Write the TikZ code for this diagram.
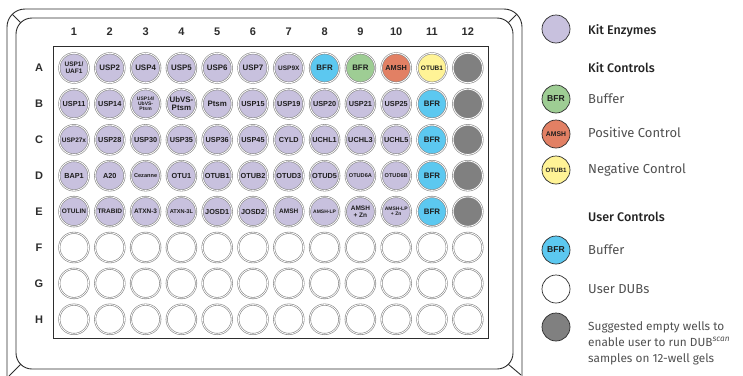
\documentclass[tikz,border=0pt]{standalone}
\usepackage{fontspec}
\setmainfont{Liberation Sans}
\newfontfamily\legendfont{Fira Sans}
\newfontfamily\legendhead{Fira Sans Medium}
\definecolor{kitlav}{RGB}{200,193,222}
\definecolor{kitgreen}{RGB}{158,205,148}
\definecolor{kitsalmon}{RGB}{226,128,100}
\definecolor{kityellow}{RGB}{255,243,150}
\definecolor{userblue}{RGB}{92,200,240}
\definecolor{emptygray}{RGB}{128,128,128}
\definecolor{ringgray}{RGB}{135,135,135}
\definecolor{welltext}{RGB}{30,30,30}
\definecolor{linecol}{RGB}{45,45,45}
\definecolor{headcol}{RGB}{35,35,35}
\definecolor{itemcol}{RGB}{80,80,80}
\newcommand\wfn{\fontsize{7.9}{8.2}\selectfont\bfseries}
\newcommand\wfm{\fontsize{7.3}{7.7}\selectfont\bfseries}
\newcommand\wfs{\fontsize{6.5}{7.0}\selectfont\bfseries}
\newcommand\wfx{\fontsize{5.6}{5.9}\selectfont\bfseries}
\newcommand\wft{\fontsize{5.0}{5.2}\selectfont\bfseries}
\tikzset{
  well/.style={circle, draw=ringgray, double=white, double distance=0.8pt,
    line width=0.6pt, minimum size=29.4pt, inner sep=0pt, align=center,
    text=welltext, font=\wfn},
  lgcircle/.style={circle, draw=linecol, line width=0.7pt, minimum size=28pt,
    inner sep=0pt, text=welltext},
  axislabel/.style={font=\fontsize{11}{12}\selectfont\bfseries, text=linecol},
  lghead/.style={anchor=west, inner sep=0pt, text=headcol,
    font=\legendhead\fontsize{12.5}{15}\selectfont},
  lgitem/.style={anchor=west, inner sep=0pt, text=itemcol,
    font=\legendfont\fontsize{13}{15}\selectfont},
  lgnote/.style={anchor=north west, inner sep=0pt, text=itemcol, align=left,
    font=\legendfont\fontsize{11.8}{16}\selectfont},
  plateline/.style={draw=linecol, line width=0.9pt}
}
\newcommand\W[5]{\node[well, fill=#3, font=#4] (w-#1-#2) at ({74+(#1-1)*35.8},{68+(#2-1)*35.9}) {#5};}
\begin{document}
\begin{tikzpicture}[x=1pt,y=-1pt]
\useasboundingbox (0,0) rectangle (743,375);
% plate outline
\begin{scope}
\clip (0,0) rectangle (743,375);
\draw[plateline, rounded corners=18pt] (7,395) -- (7,9) -- (522,9) -- (522,395);
\draw[plateline, rounded corners=16pt] (16,18) rectangle (513,369);
\coordinate (otl) at (12.3,14.3); \coordinate (itl) at (20.7,22.7);
\coordinate (otr) at (516.7,14.3); \coordinate (itr) at (508.3,22.7);
\coordinate (obr) at (521,375); \coordinate (ibr) at (508.3,364.3);
\coordinate (obl) at (9,376); \coordinate (ibl) at (20.7,364.3);
\draw[plateline] (otl) -- (itl);
\draw[plateline] (otr) -- (itr);
\draw[plateline] (ibr) -- (obr);
\draw[plateline] (ibl) -- (obl);
\end{scope}
\draw[plateline] (53,46) rectangle (488,338);
% column and row labels
\foreach \c in {1,...,12} {
  \node[axislabel] (col-\c) at ({74+(\c-1)*35.8},32) {\c};
}
\foreach \r [count=\i] in {A,B,C,D,E,F,G,H} {
  \node[axislabel] (row-\r) at (39,{68+(\i-1)*35.9}) {\r};
}
% row A
\W{1}{1}{kitlav}{\wfs}{USP1/\\UAF1}
\W{2}{1}{kitlav}{\wfn}{USP2}
\W{3}{1}{kitlav}{\wfn}{USP4}
\W{4}{1}{kitlav}{\wfn}{USP5}
\W{5}{1}{kitlav}{\wfn}{USP6}
\W{6}{1}{kitlav}{\wfn}{USP7}
\W{7}{1}{kitlav}{\wfs}{USP9X}
\W{8}{1}{userblue}{\wfn}{BFR}
\W{9}{1}{kitgreen}{\wfn}{BFR}
\W{10}{1}{kitsalmon}{\wfm}{AMSH}
\W{11}{1}{kityellow}{\wfs}{OTUB1}
\W{12}{1}{emptygray}{\wfn}{}
% row B
\W{1}{2}{kitlav}{\wfm}{USP11}
\W{2}{2}{kitlav}{\wfm}{USP14}
\W{3}{2}{kitlav}{\wft}{USP14/\\UbVS-\\Ptsm}
\W{4}{2}{kitlav}{\wfn}{UbVS-\\Ptsm}
\W{5}{2}{kitlav}{\wfn}{Ptsm}
\W{6}{2}{kitlav}{\wfm}{USP15}
\W{7}{2}{kitlav}{\wfm}{USP19}
\W{8}{2}{kitlav}{\wfm}{USP20}
\W{9}{2}{kitlav}{\wfm}{USP21}
\W{10}{2}{kitlav}{\wfm}{USP25}
\W{11}{2}{userblue}{\wfn}{BFR}
\W{12}{2}{emptygray}{\wfn}{}
% row C
\W{1}{3}{kitlav}{\wfs}{USP27x}
\W{2}{3}{kitlav}{\wfm}{USP28}
\W{3}{3}{kitlav}{\wfm}{USP30}
\W{4}{3}{kitlav}{\wfm}{USP35}
\W{5}{3}{kitlav}{\wfm}{USP36}
\W{6}{3}{kitlav}{\wfm}{USP45}
\W{7}{3}{kitlav}{\wfm}{CYLD}
\W{8}{3}{kitlav}{\wfm}{UCHL1}
\W{9}{3}{kitlav}{\wfm}{UCHL3}
\W{10}{3}{kitlav}{\wfm}{UCHL5}
\W{11}{3}{userblue}{\wfn}{BFR}
\W{12}{3}{emptygray}{\wfn}{}
% row D
\W{1}{4}{kitlav}{\wfm}{BAP1}
\W{2}{4}{kitlav}{\wfm}{A20}
\W{3}{4}{kitlav}{\wfx}{Cezanne}
\W{4}{4}{kitlav}{\wfm}{OTU1}
\W{5}{4}{kitlav}{\wfm}{OTUB1}
\W{6}{4}{kitlav}{\wfm}{OTUB2}
\W{7}{4}{kitlav}{\wfm}{OTUD3}
\W{8}{4}{kitlav}{\wfm}{OTUD5}
\W{9}{4}{kitlav}{\wfx}{OTUD6A}
\W{10}{4}{kitlav}{\wfx}{OTUD6B}
\W{11}{4}{userblue}{\wfn}{BFR}
\W{12}{4}{emptygray}{\wfn}{}
% row E
\W{1}{5}{kitlav}{\wfs}{OTULIN}
\W{2}{5}{kitlav}{\wfs}{TRABID}
\W{3}{5}{kitlav}{\wfs}{ATXN-3}
\W{4}{5}{kitlav}{\wfx}{ATXN-3L}
\W{5}{5}{kitlav}{\wfm}{JOSD1}
\W{6}{5}{kitlav}{\wfm}{JOSD2}
\W{7}{5}{kitlav}{\wfs}{AMSH}
\W{8}{5}{kitlav}{\wft}{AMSH-LP}
\W{9}{5}{kitlav}{\wfs}{AMSH\\+ Zn}
\W{10}{5}{kitlav}{\wft}{AMSH-LP\\+ Zn}
\W{11}{5}{userblue}{\wfn}{BFR}
\W{12}{5}{emptygray}{\wfn}{}
% rows F-H
\foreach \r in {6,7,8} {
  \foreach \c in {1,...,12} {
    \W{\c}{\r}{white}{\wfn}{}
  }
}
% legend
\node[lgcircle, fill=kitlav] (lg-kit) at (556,29) {};
\node[lghead] (lt-kit) at (588,31) {Kit Enzymes};
\node[lghead] (lt-kc) at (588,68) {Kit Controls};
\node[lgcircle, fill=kitgreen, font=\fontsize{8.6}{9}\selectfont\bfseries] (lg-bfr) at (556,99) {BFR};
\node[lgitem] (lt-bfr) at (588,99) {Buffer};
\node[lgcircle, fill=kitsalmon, font=\fontsize{6.8}{7}\selectfont\bfseries] (lg-amsh) at (556,134) {AMSH};
\node[lgitem] (lt-pos) at (588,133) {Positive Control};
\node[lgcircle, fill=kityellow, font=\fontsize{6.2}{6.5}\selectfont\bfseries] (lg-otub) at (556,170) {OTUB1};
\node[lgitem] (lt-neg) at (588,170) {Negative Control};
\node[lghead] (lt-uc) at (588,217) {User Controls};
\node[lgcircle, fill=userblue, font=\fontsize{8.6}{9}\selectfont\bfseries] (lg-ubfr) at (556,250) {BFR};
\node[lgitem] (lt-ubfr) at (588,250) {Buffer};
\node[lgcircle, fill=white] (lg-dub) at (556,289) {};
\node[lgitem] (lt-dub) at (588,289) {User DUBs};
\node[lgcircle, fill=emptygray] (lg-empty) at (556,327) {};
\node[lgnote] (lt-empty) at (588,321) {Suggested empty wells to\\enable user to run DUB\textsuperscript{\itshape scan}\\samples on 12-well gels};
\end{tikzpicture}
\end{document}
